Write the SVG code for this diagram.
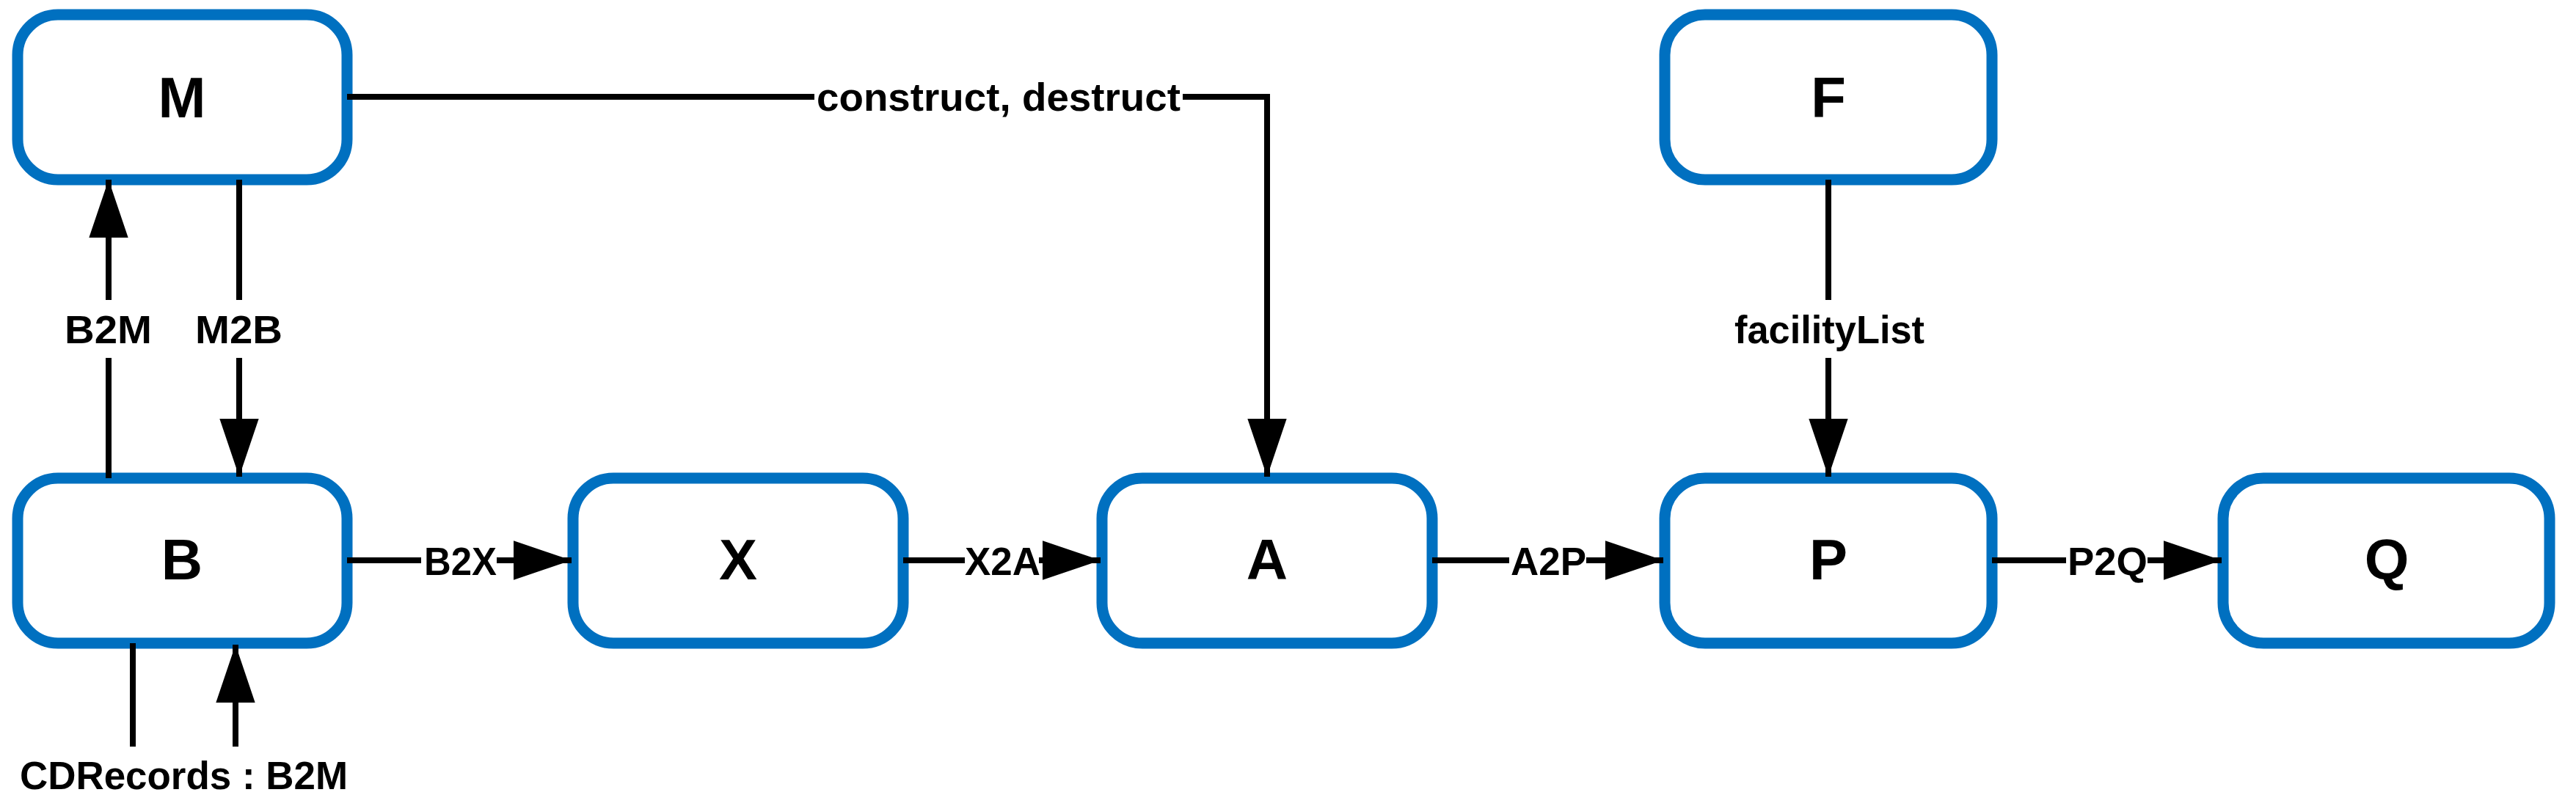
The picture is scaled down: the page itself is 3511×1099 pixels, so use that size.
<svg xmlns="http://www.w3.org/2000/svg" width="3511" height="1099" viewBox="0 0 3511 1099">
<style>
.box{fill:#fff;stroke:#0070C0;stroke-width:15}
.nt{font-family:"Liberation Sans",Arial,sans-serif;font-weight:bold;font-size:78px;text-anchor:middle;fill:#000}
.lt{font-family:"Liberation Sans",Arial,sans-serif;font-weight:bold;font-size:54px;fill:#000}
.c{fill:none;stroke:#000;stroke-width:8}
</style>
<defs>
<marker id="ah" markerUnits="userSpaceOnUse" markerWidth="80" markerHeight="54" refX="77" refY="26" orient="auto" viewBox="0 0 78 52">
<path d="M0,0 L77,26 L0,52 z" fill="#000"/>
</marker>
</defs>
<rect width="3511" height="1099" fill="#fff"/>
<g id="M"><rect class="box" x="24" y="20" width="449" height="225" rx="55"/><text class="nt" x="248" y="160">M</text></g>
<g id="F"><rect class="box" x="2269" y="20" width="446" height="225" rx="55"/><text class="nt" x="2492" y="160">F</text></g>
<g id="B"><rect class="box" x="24" y="652" width="449" height="225" rx="55"/><text class="nt" x="248" y="790">B</text></g>
<g id="X"><rect class="box" x="781" y="652" width="450" height="225" rx="55"/><text class="nt" x="1006" y="790">X</text></g>
<g id="A"><rect class="box" x="1502" y="652" width="450" height="225" rx="55"/><text class="nt" x="1727" y="790">A</text></g>
<g id="P"><rect class="box" x="2269" y="652" width="446" height="225" rx="55"/><text class="nt" x="2492" y="790">P</text></g>
<g id="Q"><rect class="box" x="3030" y="652" width="445" height="225" rx="55"/><text class="nt" x="3253" y="790">Q</text></g>
<g id="connectors">
<path class="c" d="M473,132 H1110"/>
<path class="c" d="M1612,132 H1727 V650" marker-end="url(#ah)"/>
<text class="lt" x="1113" y="151" textLength="496" lengthAdjust="spacingAndGlyphs">construct, destruct</text>
<path class="c" d="M148,652 V488"/>
<path class="c" d="M148,409 V245" marker-end="url(#ah)"/>
<text class="lt" x="88" y="468" textLength="119" lengthAdjust="spacingAndGlyphs">B2M</text>
<path class="c" d="M326,245 V409"/>
<path class="c" d="M326,488 V650" marker-end="url(#ah)"/>
<text class="lt" x="266" y="468" textLength="119" lengthAdjust="spacingAndGlyphs">M2B</text>
<path class="c" d="M181,877 V1018"/>
<path class="c" d="M321,1018 V879" marker-end="url(#ah)"/>
<text class="lt" x="27" y="1076" textLength="447" lengthAdjust="spacingAndGlyphs">CDRecords : B2M</text>
<path class="c" d="M2492,245 V409"/>
<path class="c" d="M2492,488 V650" marker-end="url(#ah)"/>
<text class="lt" x="2364" y="468" textLength="259" lengthAdjust="spacingAndGlyphs">facilityList</text>
<path class="c" d="M473,764 H574"/>
<path class="c" d="M677,764 H779" marker-end="url(#ah)"/>
<text class="lt" x="578" y="784" textLength="99" lengthAdjust="spacingAndGlyphs">B2X</text>
<path class="c" d="M1231,764 H1315"/>
<path class="c" d="M1416,764 H1500" marker-end="url(#ah)"/>
<text class="lt" x="1315" y="784" textLength="103" lengthAdjust="spacingAndGlyphs">X2A</text>
<path class="c" d="M1952,764 H2057"/>
<path class="c" d="M2162,764 H2267" marker-end="url(#ah)"/>
<text class="lt" x="2059" y="784" textLength="103" lengthAdjust="spacingAndGlyphs">A2P</text>
<path class="c" d="M2715,764 H2816"/>
<path class="c" d="M2927,764 H3028" marker-end="url(#ah)"/>
<text class="lt" x="2818" y="784" textLength="109" lengthAdjust="spacingAndGlyphs">P2Q</text>
</g>
</svg>
